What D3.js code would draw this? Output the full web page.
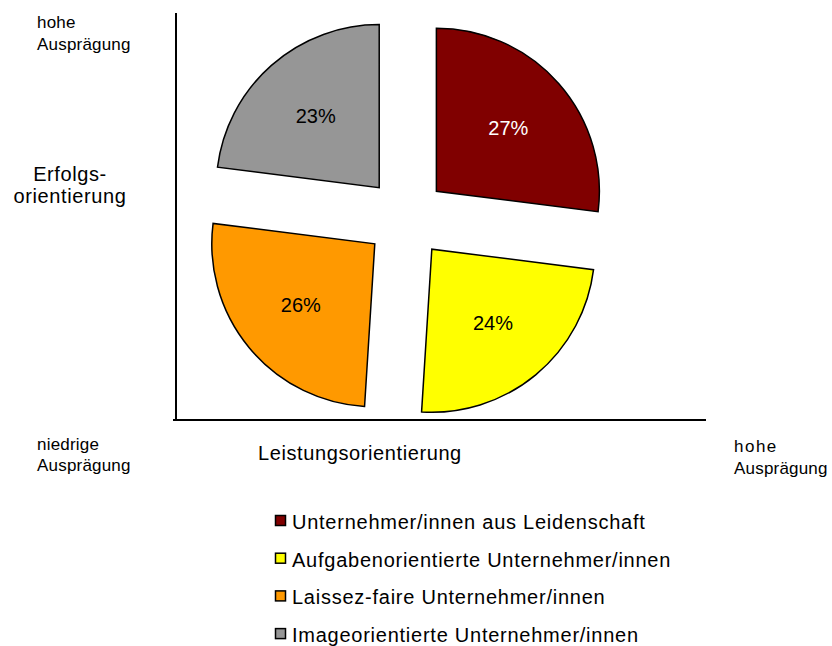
<!DOCTYPE html>
<html>
<head>
<meta charset="utf-8">
<script src="https://cdn.jsdelivr.net/npm/d3@7"></script>
<style>
	body { margin: 0; background: #fff; }
	svg { display: block; font-family: "Liberation Sans", Arial, Helvetica, sans-serif; }
</style>
</head>
<body>
<svg id="chart"></svg>
<script>

	var categories = [
		"Unternehmer/innen aus Leidenschaft",
		"Aufgabenorientierte Unternehmer/innen",
		"Laissez-faire Unternehmer/innen",
		"Imageorientierte Unternehmer/innen"
	];

	var shares = [27, 24, 26, 23];

	var yAxisTitle = ["Erfolgs-", "orientierung"];
	var xAxisTitle = "Leistungsorientierung";
	var highLabel = ["hohe", "Ausprägung"];
	var lowLabel = ["niedrige", "Ausprägung"];

	var width = 832,
		height = 646;

	var svg = d3.select("#chart")
		.attr("width", width)
		.attr("height", height);

	var color = d3.scaleOrdinal()
		.domain(categories)
		.range(["#800000", "#ffff00", "#ff9900", "#969696"]);

	var data = categories.map(function(c, i) { return { key: c, value: shares[i] }; });

	// axes frame
	svg.append("line")
		.attr("x1", 176).attr("x2", 176)
		.attr("y1", 13).attr("y2", 420)
		.style("stroke", "#000")
		.style("stroke-width", 2);

	svg.append("line")
		.attr("x1", 173).attr("x2", 706)
		.attr("y1", 420).attr("y2", 420)
		.style("stroke", "#000")
		.style("stroke-width", 2);

	// exploded pie
	var radius = 163,
		explode = 40.5,
		labelRadius = 96;

	var pie = d3.pie()
		.sort(null)
		.value(function(d) { return d.value; });

	var arc = d3.arc()
		.innerRadius(0)
		.outerRadius(radius);

	var pieG = svg.append("g")
		.attr("transform", "translate(406,218)");

	var slices = pieG.selectAll("g.slice")
		.data(pie(data))
		.enter().append("g")
		.attr("class", "slice")
		.attr("transform", function(d) {
			var a = (d.startAngle + d.endAngle) / 2;
			return "translate(" + (explode * Math.sin(a)) + "," + (-explode * Math.cos(a)) + ")";
		});

	slices.append("path")
		.attr("d", arc)
		.style("fill", function(d) { return color(d.data.key); })
		.style("stroke", "#000")
		.style("stroke-width", 1.5)
		.style("stroke-linejoin", "miter");

	slices.append("text")
		.attr("x", function(d) { return labelRadius * Math.sin((d.startAngle + d.endAngle) / 2); })
		.attr("y", function(d) { return -labelRadius * Math.cos((d.startAngle + d.endAngle) / 2); })
		.attr("dy", "0.35em")
		.style("text-anchor", "middle")
		.style("font-size", "20px")
		.style("fill", function(d, i) { return i === 0 ? "#fff" : "#000"; })
		.text(function(d) { return d.data.value + "%"; });

	// axis labels
	function lines(x, y, rows, size, step, spacing, anchor) {
		var t = svg.append("text")
			.attr("x", x)
			.attr("y", y)
			.style("font-size", size + "px")
			.style("letter-spacing", spacing + "px")
			.style("text-anchor", anchor || "start");
		rows.forEach(function(r, i) {
			t.append("tspan")
				.attr("x", x)
				.attr("y", y + i * step)
				.text(r);
		});
		return t;
	}

	lines(37, 28, highLabel, 17, 22, 0.2);
	lines(37, 450, lowLabel, 17, 21, 0.2);
	lines(734, 452, highLabel, 17, 22, 0.2).select("tspan").style("letter-spacing", "1.5px");
	lines(70, 181, yAxisTitle, 20, 22, 0.6, "middle");
	lines(258, 460, [xAxisTitle], 20, 0, 0.6);

	// legend
	var legend = svg.selectAll("g.legend")
		.data(categories)
		.enter().append("g")
		.attr("class", "legend")
		.attr("transform", function(d, i) { return "translate(275," + (515 + i * 37.7) + ")"; });

	legend.append("rect")
		.attr("x", 0.5)
		.attr("y", 0.5)
		.attr("width", 10)
		.attr("height", 10)
		.style("fill", function(d) { return color(d); })
		.style("stroke", "#000")
		.style("stroke-width", 1.5);

	legend.append("text")
		.attr("x", 17)
		.attr("y", 14)
		.style("font-size", "20px")
		.style("letter-spacing", "0.75px")
		.text(function(d) { return d; });

</script>
</body>
</html>
